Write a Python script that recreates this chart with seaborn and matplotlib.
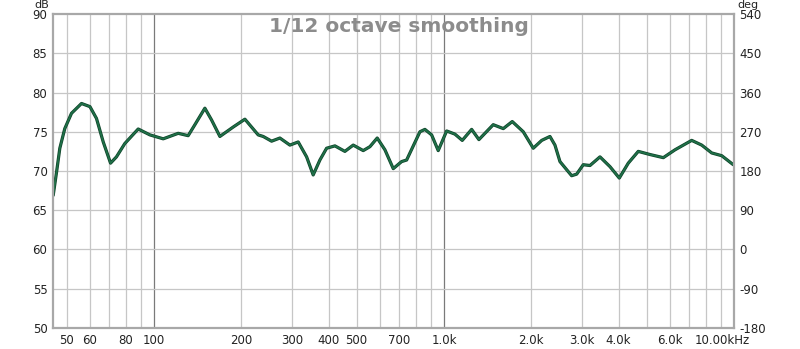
import numpy as np
import pandas as pd
import matplotlib
matplotlib.use('Agg')
import matplotlib.pyplot as plt
import matplotlib.patheffects as pe
import seaborn as sns

# Frequency response (Hz, dB)
freq_hz = [44.97, 46.2, 47.4, 49.3, 52.0, 56.3, 60.2, 63.4, 66.9, 70.9, 74.3, 79.4,
           88.3, 96.9, 107.7, 121.3, 131.3, 138.5, 149.9, 158.1, 168.9, 187.7,
           206.0, 228.9, 238.2, 254.6, 271.9, 294.4, 314.5, 336.2, 354.2, 373.6,
           394.0, 420.9, 455.6, 486.7, 526.9, 555.7, 588.8, 626.0, 668.8, 714.7,
           743.7, 826.5, 859.9, 907.0, 955.7, 1021.7, 1091, 1156.6, 1246, 1320,
           1479, 1602, 1720, 1877, 2032, 2173, 2320, 2414, 2512, 2756, 2868,
           3022, 3188, 3451, 3737, 4023, 4320, 4677, 5132, 5706, 6261, 7147,
           7740, 8378, 9071, 9945]
spl_db = [66.9, 69.9, 72.9, 75.4, 77.35, 78.6, 78.2, 76.7, 73.7, 71.0, 71.8, 73.5,
          75.35, 74.6, 74.1, 74.8, 74.5, 75.9, 78.0, 76.5, 74.4, 75.6,
          76.6, 74.6, 74.4, 73.8, 74.2, 73.3, 73.7, 71.8, 69.5, 71.4,
          72.9, 73.2, 72.5, 73.3, 72.6, 73.1, 74.2, 72.7, 70.3, 71.2,
          71.4, 75.0, 75.3, 74.6, 72.6, 75.1, 74.7, 73.9, 75.3, 74.0,
          75.9, 75.4, 76.3, 75.0, 72.9, 73.9, 74.4, 73.3, 71.2, 69.4, 69.6,
          70.8, 70.7, 71.8, 70.55, 69.1, 71.0, 72.5, 72.1, 71.7, 72.7, 73.9,
          73.3, 72.3, 71.95, 70.8]

grid_freqs = [50, 60, 70, 80, 90, 200, 300, 400, 500, 600, 700, 800, 900,
              2000, 3000, 4000, 5000, 6000, 7000, 8000, 9000]
major_freqs = [100, 1000]
xtick_pos = [50, 60, 80, 100, 200, 300, 400, 500, 700, 1000, 2000, 3000, 4000, 6000]
xtick_lab = ['50', '60', '80', '100', '200', '300', '400', '500', '700',
             '1.0k', '2.0k', '3.0k', '4.0k', '6.0k']
db_ticks = [50, 55, 60, 65, 70, 75, 80, 85, 90]
deg_ticks = [-180, -90, 0, 90, 180, 270, 360, 450, 540]

sns.set_style('white')
plt.rcParams['font.family'] = ['DejaVu Sans']
plt.rcParams['axes.unicode_minus'] = False

fig = plt.figure(figsize=(8, 3.49), dpi=100)
ax = fig.add_axes([53 / 800, 1 - 328 / 349, (734 - 53) / 800, (328 - 14) / 349])

ax.set_xscale('log')
ax.set_xlim(44.9, 10000)
ax.set_ylim(50, 90)

# сетка как в REW: светлые линии, декады темнее
for f in grid_freqs:
    ax.axvline(f, color='#c6c6c6', lw=0.9, zorder=0)
for f in major_freqs:
    ax.axvline(f, color='#7a7a7a', lw=0.9, zorder=0)
for d in db_ticks[1:-1]:
    ax.axhline(d, color='#c6c6c6', lw=0.9, zorder=0)

df = pd.DataFrame({'freq': freq_hz, 'spl': spl_db})
sns.lineplot(data=df, x='freq', y='spl', ax=ax, color='#1f7048', lw=1.3,
             path_effects=[pe.Stroke(linewidth=2.3, foreground='#0f4229'), pe.Normal()])

ax.set_xticks(xtick_pos)
ax.set_xticklabels(xtick_lab)
ax.xaxis.set_minor_locator(matplotlib.ticker.NullLocator())
ax.set_yticks(db_ticks)
ax.tick_params(axis='both', length=0, labelsize=8.5, colors='#222222', pad=4)
ax.set_xlabel('')
ax.set_ylabel('')

for s in ax.spines.values():
    s.set_color('#a8a8a8')
    s.set_linewidth(1.6)

ax2 = ax.twinx()
ax2.set_ylim(-180, 540)
ax2.set_yticks(deg_ticks)
ax2.tick_params(axis='y', length=0, labelsize=8.5, colors='#222222', pad=4)
ax2.grid(False)
for s in ax2.spines.values():
    s.set_visible(False)

fig.text(722 / 800, 1 - 340 / 349, '10.00kHz', fontsize=8.5, color='#222222',
         ha='center', va='center')
fig.text(34 / 800, 1.0, 'dB', fontsize=8, color='#222222', ha='left', va='top')
fig.text(737 / 800, 1.0, 'deg', fontsize=8, color='#222222', ha='left', va='top')

fig.text(399 / 800, 1 - 26 / 349, '1/12 octave smoothing', ha='center', va='center',
         fontsize=14.5, fontweight='bold', color='#8c8c8c')

fig.savefig('out.png', dpi=100)
